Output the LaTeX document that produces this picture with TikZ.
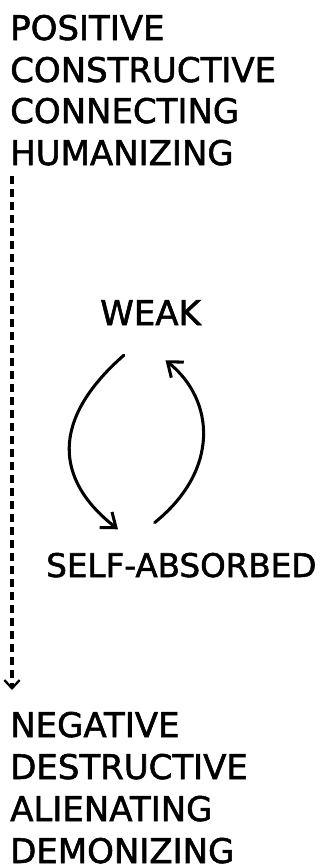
\documentclass[tikz,border=0pt]{standalone}
\usepackage{fontspec}
\newfontfamily\handfont{DejaVu Sans}[FakeBold=1.6]
\usetikzlibrary{arrows.meta}
\tikzset{
  word/.style={anchor=base west, inner sep=0pt, font=\handfont\fontsize{29}{32}\selectfont},
  cyclearrow/.style={line width=2.6pt, line cap=round, -{Straight Barb[length=11pt,width=17pt,line width=2.6pt]}},
  drift/.style={line width=2.8pt, dash pattern=on 0.24cm off 0.15cm, -{Straight Barb[length=7pt,width=13pt,line width=2pt]}}
}
\begin{document}
\begin{tikzpicture}[x=0.03cm,y=-0.03cm]
      \useasboundingbox[fill=white] (0,0) rectangle (323,866);
      % upper list
      \node[word] (positive) at (10,40) {POSITIVE};
      \node[word] (constructive) at (10,82) {CONSTRUCTIVE};
      \node[word] (connecting) at (10,123) {CONNECTING};
      \node[word] (humanizing) at (10,165) {HUMANIZING};
      % the cycle
      \node[word] (weak) at (100,325) {WEAK};
      \node[word, font=\handfont\fontsize{27.8}{32}\selectfont] (selfabs) at (46,577) {SELF-ABSORBED};
      \draw[cyclearrow] ([xshift=-0.8cm,yshift=-0.9cm]weak.south) .. controls (50,420) and (55,480) .. ([xshift=-1.9cm,yshift=0.7cm]selfabs.north);
      \draw[cyclearrow] ([xshift=-0.8cm,yshift=0.9cm]selfabs.north) .. controls (220,470) and (215,400) .. ([xshift=0.45cm,yshift=-1.05cm]weak.south);
      % lower list
      \node[word] (negative) at (10,737) {NEGATIVE};
      \node[word] (destructive) at (10,779) {DESTRUCTIVE};
      \node[word] (alienating) at (10,821) {ALIENATING};
      \node[word] (demonizing) at (10,863) {DEMONIZING};
      \coordinate (drop) at (12,690);
      \draw[drift] ([xshift=0.06cm,yshift=-0.3cm]humanizing.south west) -- (drop);
\end{tikzpicture}
\end{document}
